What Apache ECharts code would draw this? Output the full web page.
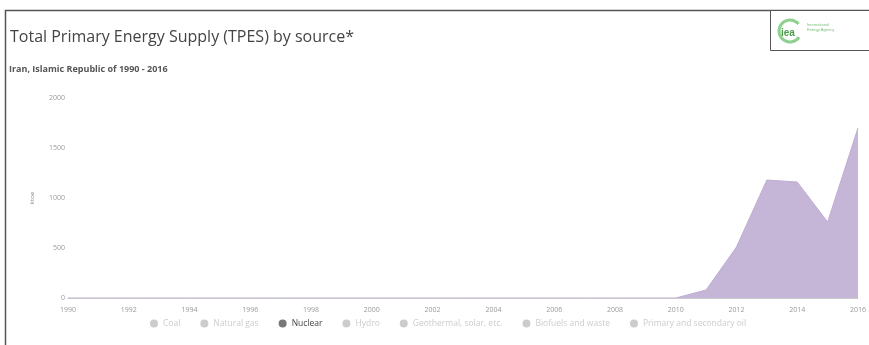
<!DOCTYPE html>
<html><head><meta charset="utf-8">
<script src="https://cdn.jsdelivr.net/npm/echarts@6/dist/echarts.min.js"></script>
<style>html,body{margin:0;padding:0;background:#fff}#c{width:869px;height:345px}</style>
</head><body><div id="c"></div>
<script>
const years = [];
for (let y = 1990; y <= 2016; y++) years.push(String(y));
const nuclear = [0,0,0,0,0,0,0,0,0,0,0,0,0,0,0,0,0,0,0,0,0,80,510,1180,1160,760,1700];
const legendNames = ["Coal","Natural gas","Nuclear","Hydro","Geothermal, solar, etc.","Biofuels and waste","Primary and secondary oil"];
const yTicks = [0,500,1000,1500,2000];

const chart = echarts.init(document.getElementById('c'));
const series = legendNames.map(n => ({
  name: n, type: 'line', stack: 'a', symbol: 'none',
  data: n === 'Nuclear' ? nuclear : years.map(() => 0),
  lineStyle: {width: 1, color: '#bfaed3'},
  areaStyle: {color: '#c5b6d8', opacity: 1},
  itemStyle: {color: '#c5b6d8'}
}));
const selected = {};
legendNames.forEach(n => selected[n] = n === 'Nuclear');
chart.setOption({
  animation: false,
  textStyle: {fontFamily: 'Open Sans'},
  title: [
    {text: 'Total Primary Energy Supply (TPES) by source*', left: 10, top: 29, padding: 0,
     textStyle: {fontSize: 16, fontWeight: 'normal', color: '#444'}},
    {text: 'Iran, Islamic Republic of 1990 - 2016', left: 9, top: 65, padding: 0,
     textStyle: {fontSize: 9, fontWeight: 'bold', color: '#555'}}
  ],
  legend: {
    bottom: 12, left: 145, itemGap: 20, itemWidth: 8, itemHeight: 8,
    selected: selected, inactiveColor: '#ccc',
    textStyle: {fontSize: 8.5, color: '#444'},
    data: legendNames.map(n => ({name: n, icon: 'circle', itemStyle: {color: '#777'}}))
  },
  grid: {left: 68, right: 8, top: 98, bottom: 47},
  xAxis: {
    type: 'category', data: years, boundaryGap: false,
    axisLine: {lineStyle: {color: '#ccc'}},
    axisTick: {show: false},
    axisLabel: {interval: 1, fontSize: 7, color: '#999', margin: 8}
  },
  yAxis: {
    type: 'value', min: 0, max: 2000, interval: 500,
    name: 'ktoe', nameLocation: 'middle', nameGap: 33, nameRotate: 90,
    nameTextStyle: {fontSize: 6, color: '#888'},
    splitLine: {show: false},
    axisLine: {show: false}, axisTick: {show: false},
    axisLabel: {fontSize: 7, color: '#999', margin: 3, formatter: v => String(v)}
  },
  series: series,
  graphic: [
    {type: 'rect', shape: {x: 5.5, y: 10.5, width: 870, height: 340}, style: {fill: 'none', stroke: '#555', lineWidth: 1.5}},
    {type: 'rect', shape: {x: 770.5, y: 10.5, width: 100, height: 40}, style: {fill: '#fff', stroke: '#555', lineWidth: 1}},
    {type: 'arc', shape: {cx: 790, cy: 31, r: 11, startAngle: 0.6, endAngle: 5.6}, style: {stroke: '#8fd08f', lineWidth: 3, fill: 'none'}},
    {type: 'text', style: {x: 781, y: 28, text: 'iea', fontSize: 10, fill: '#4a9a4a', fontWeight: 'bold'}},
    {type: 'text', style: {x: 807, y: 22, text: 'International\nEnergy Agency', fontSize: 4, fill: '#7cbf7c', lineHeight: 5}}
  ]
});
</script></body></html>
